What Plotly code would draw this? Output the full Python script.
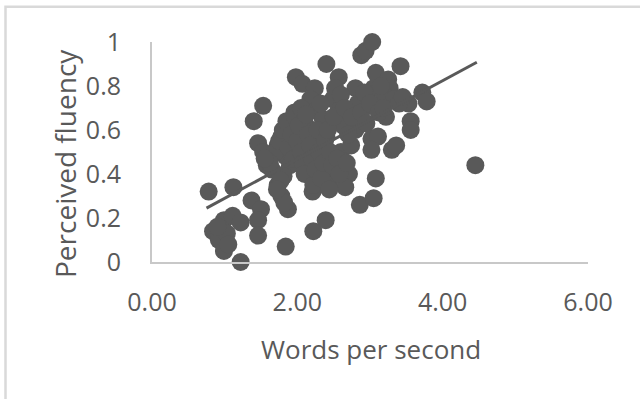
import plotly.graph_objects as go

# Speaking rate (words per second) vs perceived fluency rating
wps = [
    0.78, 1.12, 0.84, 0.92, 0.99, 1.22, 0.99, 1.11, 1.22, 1.03, 0.90, 1.05,
    1.37, 1.50, 1.46, 1.46, 1.40, 1.53, 1.46, 1.53, 1.61, 1.58, 1.84, 1.73,
    1.78, 1.87, 1.82, 1.78, 1.73, 1.84, 1.90, 1.81, 1.96, 1.90, 2.01, 1.98,
    2.07, 2.12, 2.10, 2.15, 2.18, 2.24, 2.21, 2.24, 2.18, 2.26, 2.35, 2.40,
    2.22, 2.39, 2.30, 2.35, 2.40, 2.40, 2.32, 2.35, 2.46, 2.57, 2.52, 2.49,
    2.57, 2.69, 2.63, 2.60, 2.74, 2.71, 2.66, 2.54, 2.80, 2.83, 2.80, 2.86,
    2.88, 2.94, 3.03, 3.08, 3.05, 3.02, 3.11, 3.02, 3.08, 3.05, 3.25, 3.27,
    3.19, 3.22, 3.30, 3.36, 3.33, 3.42, 3.53, 3.56, 3.56, 3.72, 3.78, 4.45,
    1.65, 1.70, 1.75, 1.80, 1.85, 1.88, 1.92, 1.95, 1.97, 2.00, 2.02, 2.05,
    2.05, 2.08, 2.10, 2.12, 2.15, 2.18, 2.20, 2.22, 2.25, 2.28, 2.30, 2.32,
    2.33, 2.36, 2.38, 2.42, 2.44, 2.45, 2.48, 2.50, 2.55, 2.58, 2.60,
    2.65, 2.68, 2.70, 2.75, 2.88, 2.92, 2.95, 3.00, 3.12,
    3.15, 3.18, 3.40, 3.45, 1.77, 1.72, 1.62, 1.55,
]
fluency = [
    0.32, 0.34, 0.14, 0.10, 0.05, 0.00, 0.19, 0.21, 0.18, 0.13, 0.16, 0.08,
    0.28, 0.24, 0.19, 0.12, 0.64, 0.71, 0.54, 0.50, 0.47, 0.44, 0.07, 0.35,
    0.30, 0.24, 0.27, 0.57, 0.53, 0.48, 0.44, 0.39, 0.68, 0.63, 0.60, 0.84,
    0.81, 0.62, 0.56, 0.50, 0.44, 0.38, 0.32, 0.79, 0.74, 0.69, 0.65, 0.90,
    0.14, 0.19, 0.56, 0.50, 0.42, 0.57, 0.47, 0.38, 0.38, 0.84, 0.79, 0.74,
    0.69, 0.65, 0.62, 0.50, 0.53, 0.40, 0.34, 0.42, 0.79, 0.72, 0.60, 0.26,
    0.94, 0.96, 1.00, 0.86, 0.79, 0.56, 0.57, 0.51, 0.38, 0.29, 0.83, 0.79,
    0.76, 0.66, 0.51, 0.53, 0.74, 0.89, 0.72, 0.64, 0.60, 0.77, 0.73, 0.44,
    0.42, 0.50, 0.55, 0.60, 0.64, 0.52, 0.58, 0.47, 0.66, 0.55, 0.62, 0.70,
    0.50, 0.45, 0.40, 0.67, 0.58, 0.53, 0.47, 0.35, 0.42, 0.60, 0.50, 0.72,
    0.38, 0.45, 0.55, 0.60, 0.33, 0.50, 0.44, 0.66, 0.47, 0.40, 0.76,
    0.70, 0.45, 0.58, 0.66, 0.68, 0.77, 0.63, 0.72, 0.68,
    0.80, 0.70, 0.72, 0.75, 0.37, 0.33, 0.45, 0.47,
]

# Linear trend line endpoints (spans the observed speaking-rate range)
trend_x = [0.75, 4.47]
trend_y = [0.245, 0.908]

x_ticks = [0, 2, 4, 6]
x_tick_labels = ["0.00", "2.00", "4.00", "6.00"]
y_ticks = [0, 0.2, 0.4, 0.6, 0.8, 1]
y_tick_labels = ["0", "0.2", "0.4", "0.6", "0.8", "1"]

W, H = 640, 399
L, R, T, B = 152, 52, 42, 137
PW, PH = W - L - R, H - T - B

def px_x(px):
    return (px - L) / PW

def px_y(py):
    return (H - B - py) / PH

TEXT = "#595959"
FONT = "Open Sans"

fig = go.Figure()
fig.add_trace(go.Scatter(
    x=wps, y=fluency, mode="markers",
    marker=dict(size=18, color="#595959", line=dict(width=0)),
    cliponaxis=False, showlegend=False,
))
fig.add_trace(go.Scatter(
    x=trend_x, y=trend_y, mode="lines",
    line=dict(color="#595959", width=3),
    cliponaxis=False, showlegend=False,
))

fig.update_layout(
    width=W, height=H,
    margin=dict(l=L, r=R, t=T, b=B, pad=0),
    paper_bgcolor="white", plot_bgcolor="white",
    font=dict(family=FONT, color=TEXT),
    xaxis=dict(
        range=[0, 6], tickvals=x_ticks, ticktext=x_tick_labels,
        showgrid=False, zeroline=False,
        showline=True, linecolor="#c8c8c8", linewidth=2,
        ticks="", ticklabelstandoff=17,
        tickfont=dict(family=FONT, size=25, color=TEXT),
    ),
    yaxis=dict(
        range=[0, 1], tickvals=y_ticks, ticktext=y_tick_labels,
        showgrid=False, zeroline=False,
        showline=True, linecolor="#c8c8c8", linewidth=2,
        ticks="", ticklabelstandoff=24,
        tickfont=dict(family=FONT, size=25, color=TEXT),
    ),
    annotations=[
        dict(text="Words per second", xref="paper", yref="paper",
             x=px_x(371), y=px_y(349), xanchor="center", yanchor="middle",
             showarrow=False, font=dict(family=FONT, size=26, color=TEXT)),
        dict(text="Perceived fluency", xref="paper", yref="paper",
             x=px_x(65), y=px_y(164), xanchor="center", yanchor="middle",
             textangle=-90, showarrow=False,
             font=dict(family=FONT, size=28, color=TEXT)),
    ],
    shapes=[
        dict(type="rect", xref="paper", yref="paper",
             x0=px_x(5.5), x1=px_x(660), y0=px_y(6.8), y1=px_y(420),
             line=dict(color="#d9d9d9", width=2.5), fillcolor="rgba(0,0,0,0)",
             layer="below"),
    ],
)

fig.write_html("out.html", config={"displayModeBar": False})
